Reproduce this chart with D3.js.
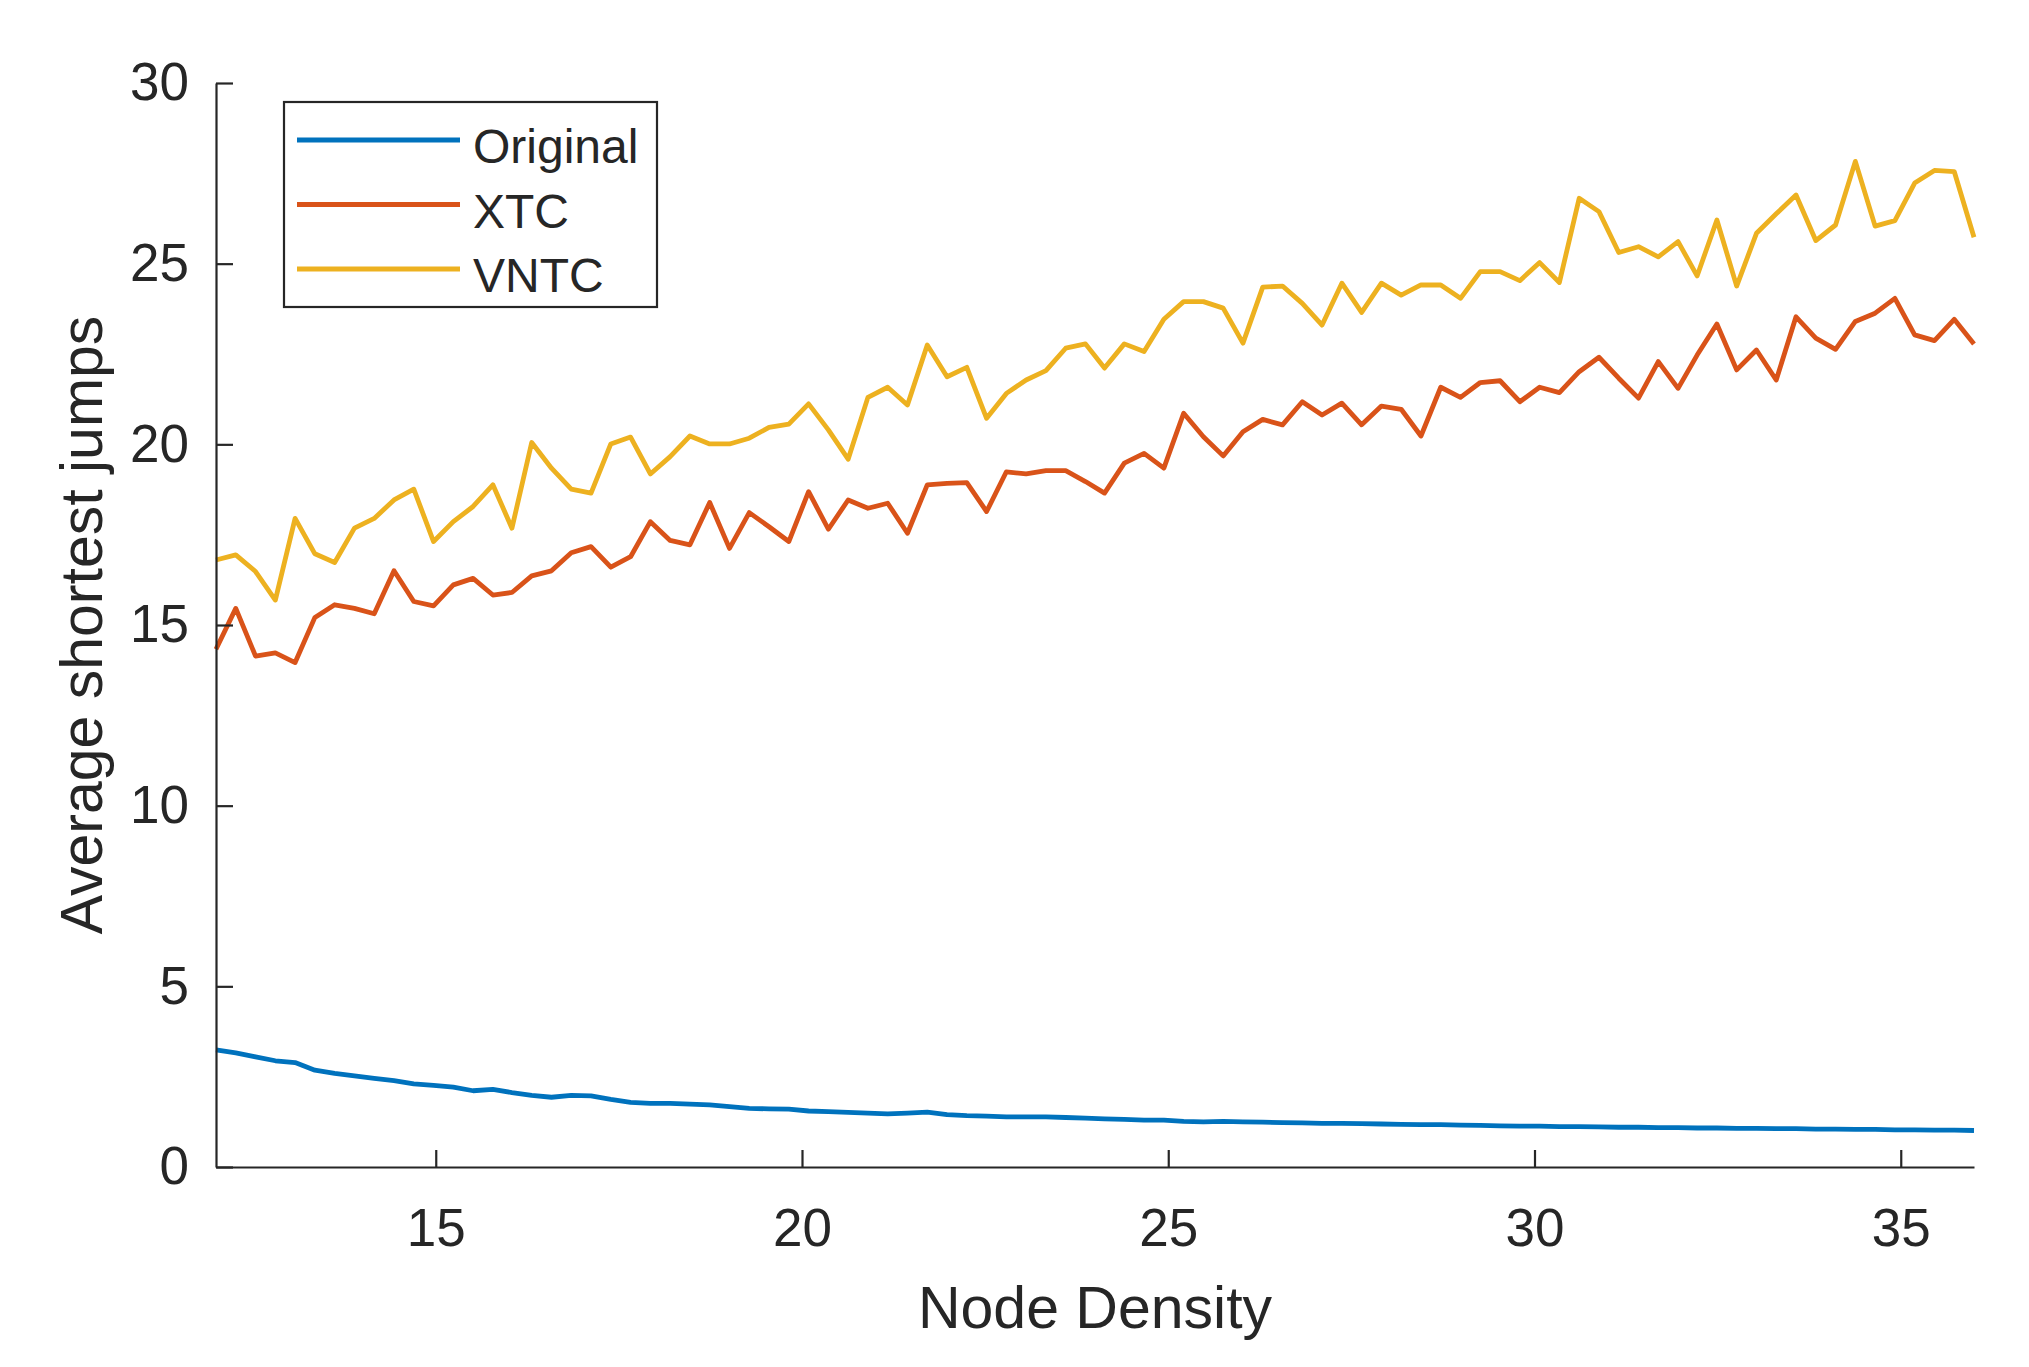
<!DOCTYPE html>
<html>
<head>
<meta charset="utf-8">
<script src="https://cdn.jsdelivr.net/npm/d3@7"></script>
<style>
  body { margin: 0; background: #fff; }
  text { font-family: "Liberation Sans", Arial, Helvetica, sans-serif; fill: #262626; }
</style>
</head>
<body>
<div class="chart"></div>
<script>
// node density samples (x)
var density = [
  12.00, 12.27, 12.54, 12.81, 13.08, 13.35, 13.62, 13.89, 14.16, 14.43,
  14.70, 14.97, 15.24, 15.51, 15.78, 16.04, 16.31, 16.58, 16.85, 17.12,
  17.39, 17.66, 17.93, 18.20, 18.47, 18.74, 19.01, 19.28, 19.55, 19.82,
  20.09, 20.36, 20.63, 20.90, 21.17, 21.44, 21.71, 21.98, 22.25, 22.52,
  22.79, 23.06, 23.33, 23.60, 23.87, 24.13, 24.40, 24.67, 24.94, 25.21,
  25.48, 25.75, 26.02, 26.29, 26.56, 26.83, 27.10, 27.37, 27.64, 27.91,
  28.18, 28.45, 28.72, 28.99, 29.26, 29.53, 29.80, 30.07, 30.34, 30.61,
  30.88, 31.15, 31.42, 31.69, 31.96, 32.22, 32.49, 32.76, 33.03, 33.30,
  33.57, 33.84, 34.11, 34.38, 34.65, 34.92, 35.19, 35.46, 35.73, 36.00
];

var original = [
  3.24, 3.16, 3.05, 2.94, 2.89, 2.68, 2.59, 2.52, 2.45, 2.39,
  2.30, 2.26, 2.21, 2.11, 2.15, 2.06, 1.98, 1.93, 1.98, 1.97,
  1.87, 1.79, 1.76, 1.76, 1.74, 1.72, 1.67, 1.62, 1.61, 1.60,
  1.55, 1.53, 1.51, 1.49, 1.47, 1.49, 1.52, 1.45, 1.42, 1.41,
  1.39, 1.39, 1.39, 1.37, 1.35, 1.33, 1.32, 1.30, 1.30, 1.26,
  1.25, 1.26, 1.25, 1.24, 1.23, 1.22, 1.21, 1.21, 1.20, 1.19,
  1.18, 1.17, 1.17, 1.16, 1.15, 1.14, 1.13, 1.13, 1.12, 1.12,
  1.11, 1.10, 1.10, 1.09, 1.09, 1.08, 1.08, 1.07, 1.07, 1.06,
  1.06, 1.05, 1.05, 1.04, 1.04, 1.03, 1.03, 1.02, 1.02, 1.01
];

var xtc = [
  14.33, 15.46, 14.14, 14.23, 13.96, 15.21, 15.56, 15.46, 15.31, 16.50,
  15.65, 15.53, 16.11, 16.29, 15.83, 15.90, 16.36, 16.50, 17.00, 17.17,
  16.60, 16.89, 17.86, 17.34, 17.22, 18.39, 17.12, 18.11, 17.72, 17.31,
  18.69, 17.65, 18.46, 18.23, 18.37, 17.54, 18.88, 18.92, 18.94, 18.14,
  19.24, 19.18, 19.27, 19.27, 18.97, 18.65, 19.48, 19.75, 19.34, 20.86,
  20.21, 19.68, 20.35, 20.69, 20.54, 21.18, 20.81, 21.14, 20.54, 21.06,
  20.97, 20.23, 21.58, 21.30, 21.71, 21.76, 21.18, 21.58, 21.43, 22.01,
  22.41, 21.83, 21.28, 22.29, 21.55, 22.47, 23.33, 22.06, 22.61, 21.78,
  23.53, 22.94, 22.63, 23.40, 23.63, 24.04, 23.03, 22.87, 23.46, 22.78
];

var vntc = [
  16.80, 16.94, 16.48, 15.69, 17.95, 16.97, 16.73, 17.68, 17.95, 18.46,
  18.76, 17.31, 17.86, 18.28, 18.88, 17.68, 20.05, 19.34, 18.76, 18.65,
  20.01, 20.20, 19.18, 19.66, 20.23, 20.01, 20.01, 20.17, 20.47, 20.56,
  21.12, 20.40, 19.59, 21.30, 21.58, 21.09, 22.75, 21.87, 22.13, 20.72,
  21.41, 21.78, 22.04, 22.66, 22.78, 22.11, 22.78, 22.57, 23.46, 23.95,
  23.95, 23.77, 22.80, 24.35, 24.38, 23.90, 23.30, 24.46, 23.65, 24.46,
  24.13, 24.41, 24.41, 24.04, 24.78, 24.78, 24.53, 25.03, 24.48, 26.81,
  26.44, 25.31, 25.47, 25.19, 25.61, 24.66, 26.21, 24.38, 25.84, 26.38,
  26.90, 25.64, 26.07, 27.83, 26.04, 26.19, 27.23, 27.58, 27.55, 25.73
];

var seriesNames = ["Original", "XTC", "VNTC"];
var seriesColors = ["#0072BD", "#D95319", "#EDB120"];
var xTicks = [15, 20, 25, 30, 35];
var yTicks = [0, 5, 10, 15, 20, 25, 30];

var W = 2029, H = 1367;
var margin = { left: 216, right: 55, top: 83, bottom: 200 };

var svg = d3.select('.chart').append('svg')
  .attr('width', W)
  .attr('height', H);

var x = d3.scaleLinear().domain([12, 36]).range([margin.left, W - margin.right]);
var y = d3.scaleLinear().domain([0, 30]).range([H - margin.bottom, margin.top]);

var allSeries = [original, xtc, vntc];

var line = d3.line()
  .x(function(d, i) { return x(density[i]); })
  .y(function(d) { return y(d); });

// lines
svg.selectAll('path.series')
  .data(allSeries)
  .enter()
  .append('path')
  .attr('class', 'series')
  .attr('fill', 'none')
  .attr('stroke', function(d, i) { return seriesColors[i]; })
  .attr('stroke-width', 4.8)
  .attr('stroke-linejoin', 'round')
  .attr('d', line);

// axes
var xAxis = svg.append('g')
  .attr('transform', 'translate(0,' + (H - margin.bottom) + ')')
  .call(d3.axisBottom(x).tickValues(xTicks).tickSizeInner(-17).tickSizeOuter(0).tickPadding(41));

var yAxis = svg.append('g')
  .attr('transform', 'translate(' + margin.left + ',0)')
  .call(d3.axisLeft(y).tickValues(yTicks).tickSizeInner(-17).tickSizeOuter(0).tickPadding(27));

[xAxis, yAxis].forEach(function(g) {
  g.select('.domain').attr('stroke', '#262626').attr('stroke-width', 2.2);
  g.selectAll('.tick line').attr('stroke', '#262626').attr('stroke-width', 2.2);
  g.selectAll('.tick text')
    .attr('font-size', 53)
    .attr('font-family', '"Liberation Sans", Arial, sans-serif')
    .attr('fill', '#262626');
});

// axis titles
svg.append('text')
  .attr('x', (x.range()[0] + x.range()[1]) / 2)
  .attr('y', 1328)
  .attr('text-anchor', 'middle')
  .attr('font-size', 59)
  .text('Node Density');

svg.append('text')
  .attr('transform', 'translate(102,' + ((y.range()[0] + y.range()[1]) / 2) + ') rotate(-90)')
  .attr('text-anchor', 'middle')
  .attr('font-size', 59)
  .text('Average shortest jumps');

// legend
var legend = svg.append('g');
legend.append('rect')
  .attr('x', 284)
  .attr('y', 102)
  .attr('width', 373)
  .attr('height', 205)
  .attr('fill', '#fff')
  .attr('stroke', '#262626')
  .attr('stroke-width', 2.2);

var items = legend.selectAll('g.item')
  .data(seriesNames)
  .enter()
  .append('g')
  .attr('class', 'item')
  .attr('transform', function(d, i) { return 'translate(0,' + (140 + i * 64.5) + ')'; });

items.append('line')
  .attr('x1', 297).attr('x2', 460)
  .attr('y1', 0).attr('y2', 0)
  .attr('stroke', function(d, i) { return seriesColors[i]; })
  .attr('stroke-width', 4.8);

items.append('text')
  .attr('x', 473)
  .attr('y', 23)
  .attr('font-size', 48)
  .text(function(d) { return d; });
</script>
</body>
</html>
